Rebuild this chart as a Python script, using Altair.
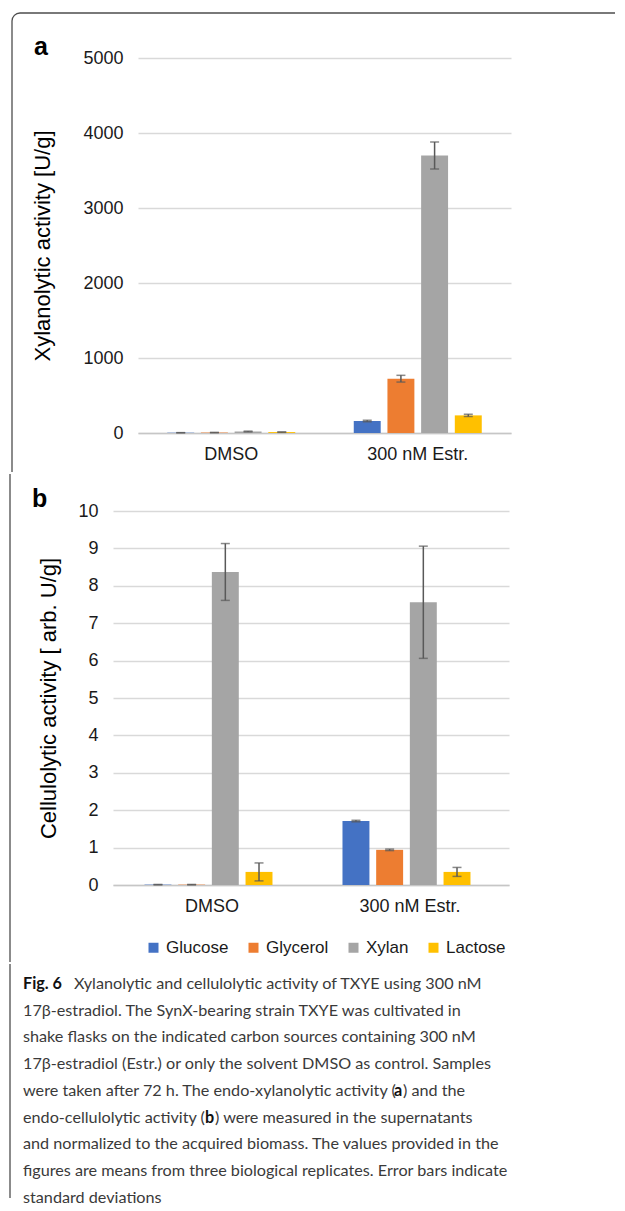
import altair as alt
import pandas as pd

# ---------------- data ----------------
categories = ["DMSO", "300 nM Estr."]
sources = ["Glucose", "Glycerol", "Xylan", "Lactose"]
colors = ["#4472C4", "#ED7D31", "#A5A5A5", "#FFC000"]

# panel a: xylanolytic activity [U/g]
xyl_dmso_mean = [4, 6, 20, 12]
xyl_dmso_sd = [1, 2, 5, 3]
xyl_estr_mean = [160, 724, 3700, 235]
xyl_estr_sd = [10, 45, 180, 15]
xyl_ticks = [0, 1000, 2000, 3000, 4000, 5000]

# panel b: cellulolytic activity [arb. U/g]
cel_dmso_mean = [0.01, 0.01, 8.37, 0.35]
cel_dmso_sd = [0.005, 0.005, 0.76, 0.24]
cel_estr_mean = [1.71, 0.94, 7.56, 0.35]
cel_estr_sd = [0.02, 0.02, 1.5, 0.12]
cel_ticks = [0, 1, 2, 3, 4, 5, 6, 7, 8, 9, 10]

caption_lines = [
    [("Fig. 6", True), ("Xylanolytic and cellulolytic activity of TXYE using 300 nM", False)],
    [("17\u03b2-estradiol. The SynX-bearing strain TXYE was cultivated in", False)],
    [("shake flasks on the indicated carbon sources containing 300 nM", False)],
    [("17\u03b2-estradiol (Estr.) or only the solvent DMSO as control. Samples", False)],
    [("were taken after 72 h. The endo-xylanolytic activity (", False), ("a", True), (") and the", False)],
    [("endo-cellulolytic activity (", False), ("b", True), (") were measured in the supernatants", False)],
    [("and normalized to the acquired biomass. The values provided in the", False)],
    [("figures are means from three biological replicates. Error bars indicate", False)],
    [("standard deviations", False)],
]
# left edge (page px) of each caption segment
caption_seg_x = [[22, 73], [22], [22], [22], [22, 393, 402], [22, 204, 214], [22], [22], [22]]

FONT = "Liberation Sans"
CAP_FONT = "Lato"
FRAME = "#4d4d4d"
ERR = "#595959"
FRAME_X = 9  # page x of the frame line (all rows are aligned on it)


def make_df(means_list, sds_list):
    rows = []
    for cat, means, sds in zip(categories, means_list, sds_list):
        for s, m, sd in zip(sources, means, sds):
            rows.append({"cond": cat, "src": s, "mean": m, "sd": sd})
    return pd.DataFrame(rows)


def frame_layers(fx, ftop, fbottom, top_line_to=None, r=8):
    one = alt.Chart(pd.DataFrame({"k": [0]}))
    layers = []
    if top_line_to is not None:
        layers.append(one.mark_rule(color=FRAME, strokeWidth=1.3).encode(
            x=alt.value(fx), y=alt.value(ftop + r), y2=alt.value(fbottom)))
        layers.append(one.mark_rule(color=FRAME, strokeWidth=1.3).encode(
            x=alt.value(fx + r), x2=alt.value(top_line_to), y=alt.value(ftop)))
        layers.append(one.mark_arc(theta=4.71239, theta2=6.28318, radius=r, radius2=r,
                                   filled=False, stroke=FRAME, strokeWidth=1.3).encode(
            x=alt.value(fx + r), y=alt.value(ftop + r)))
    else:
        layers.append(one.mark_rule(color=FRAME, strokeWidth=1.3).encode(
            x=alt.value(fx), y=alt.value(ftop), y2=alt.value(fbottom)))
    return layers


def panel(df, W, H, ymax, ticks, ytitle, letter, letter_xy, pi, po, title_pad,
          frame, top_line_to=None, legend=None):
    base = alt.Chart(df).transform_calculate(lo="datum.mean - datum.sd", hi="datum.mean + datum.sd")
    x = alt.X("cond:N", sort=categories, title=None,
              scale=alt.Scale(paddingInner=pi, paddingOuter=po),
              axis=alt.Axis(labelAngle=0, ticks=False, domain=True, domainColor="#c6c6c6",
                            domainWidth=1.5, labelFontSize=18, labelFont=FONT, labelColor="#1a1a1a",
                            labelPadding=12, grid=False))
    xo = alt.XOffset("src:N", sort=sources, scale=alt.Scale(paddingInner=0.2, paddingOuter=0))
    yscale = alt.Scale(domain=[0, ymax], nice=False)
    yaxis = alt.Axis(values=ticks, format="d", ticks=False, domain=False, grid=True,
                     gridColor="#d9d9d9", gridWidth=1.5, labelFontSize=18, labelFont=FONT,
                     labelColor="#1a1a1a", labelPadding=15, titleFontSize=22, titleFont=FONT,
                     titleFontWeight="normal", titleColor="#000000", titlePadding=title_pad,
                     labelOverlap=False)
    bars = base.mark_bar().encode(
        x=x, xOffset=xo,
        y=alt.Y("mean:Q", title=ytitle, scale=yscale, axis=yaxis),
        color=alt.Color("src:N", sort=sources, scale=alt.Scale(domain=sources, range=colors),
                        legend=legend),
    )
    err = base.mark_rule(color=ERR, strokeWidth=1.5).encode(
        x=x, xOffset=xo, y=alt.Y("lo:Q", title=ytitle, scale=yscale, axis=yaxis), y2="hi:Q")
    cap_lo = base.mark_tick(color=ERR, thickness=1.5, size=9).encode(
        x=x, xOffset=xo, y=alt.Y("lo:Q", title=ytitle, scale=yscale, axis=yaxis))
    cap_hi = base.mark_tick(color=ERR, thickness=1.5, size=9).encode(
        x=x, xOffset=xo, y=alt.Y("hi:Q", title=ytitle, scale=yscale, axis=yaxis))
    lab = alt.Chart(pd.DataFrame({"k": [0]})).mark_text(
        text=letter, font=FONT, fontSize=25, fontWeight="bold", align="left",
        baseline="alphabetic", color="#000000").encode(
        x=alt.value(letter_xy[0]), y=alt.value(letter_xy[1]))
    fr = frame_layers(*frame, top_line_to=top_line_to)
    return alt.layer(bars, err, cap_lo, cap_hi, lab, *fr).properties(width=W, height=H)


df_a = make_df([xyl_dmso_mean, xyl_estr_mean], [xyl_dmso_sd, xyl_estr_sd])
df_b = make_df([cel_dmso_mean, cel_estr_mean], [cel_dmso_sd, cel_estr_sd])

# panel a: plot origin at page (135, 56)
chart_a = panel(df_a, 373, 375, 5000, xyl_ticks, "Xylanolytic activity [U/g]", "a",
                (31 - 135, 53 - 56), 0.3137, 0.1568, 28,
                (FRAME_X - 135, 11 - 56, 470 - 56), top_line_to=612 - 135, legend=None)

# panel b: plot origin at page (112, 507)
leg = alt.Legend(orient="none", legendX=144 - 112, legendY=437 - 9, direction="horizontal",
                 title=None, symbolType="square", symbolSize=100, symbolStrokeWidth=0,
                 labelFontSize=17, labelFont=FONT, labelColor="#1a1a1a", columnPadding=16,
                 labelOffset=4, padding=0)
chart_b = panel(df_b, 396, 374, 10, cel_ticks, "Cellulolytic activity [ arb. U/g]", "b",
                (31 - 112, 503 - 507), 0.318, 0.159, 17,
                (FRAME_X - 112, 470 - 507, 958 - 507), legend=leg)

# caption: origin at page (9, 958)
rows = []
for i, (segs, xs) in enumerate(zip(caption_lines, caption_seg_x)):
    for (txt, bold), px in zip(segs, xs):
        rows.append({"t": txt, "bold": bold, "px": px - FRAME_X, "py": 20 + 26.7 * i})
cap_df = pd.DataFrame(rows)
cap_base = alt.Chart(cap_df)
cap_reg = cap_base.transform_filter("!datum.bold").mark_text(
    font=CAP_FONT, fontSize=16.2, align="left", baseline="middle", color="#3a3a3a").encode(
    x=alt.X("px:Q", scale=None, axis=None), y=alt.Y("py:Q", scale=None, axis=None), text="t:N")
cap_bold = cap_base.transform_filter("datum.bold").mark_text(
    font=CAP_FONT, fontSize=16.2, fontWeight="bold", align="left", baseline="middle",
    color="#111111").encode(
    x=alt.X("px:Q", scale=None, axis=None), y=alt.Y("py:Q", scale=None, axis=None), text="t:N")
chart_c = alt.layer(cap_reg, cap_bold, *frame_layers(0, 0, 234)).properties(width=500, height=228)


def spacer():
    return alt.Chart(pd.DataFrame({"k": [0]})).mark_rule(opacity=0).encode(
        x=alt.value(0), y=alt.value(0), y2=alt.value(1)).properties(width=1, height=1)


def wrap(c):
    # equal spacer first: each panel is then placed by its left bound (the frame line)
    return alt.hconcat(spacer(), c, spacing=0).resolve_scale(color="independent")


chart = alt.vconcat(wrap(chart_a), wrap(chart_b), wrap(chart_c), spacing=0).resolve_scale(
    color="independent").properties(
    padding={"left": 0, "top": 2, "right": 0, "bottom": 0}, background="white"
).configure_view(stroke=None)

chart.save("out.html", embed_options={"renderer": "svg", "actions": False})
